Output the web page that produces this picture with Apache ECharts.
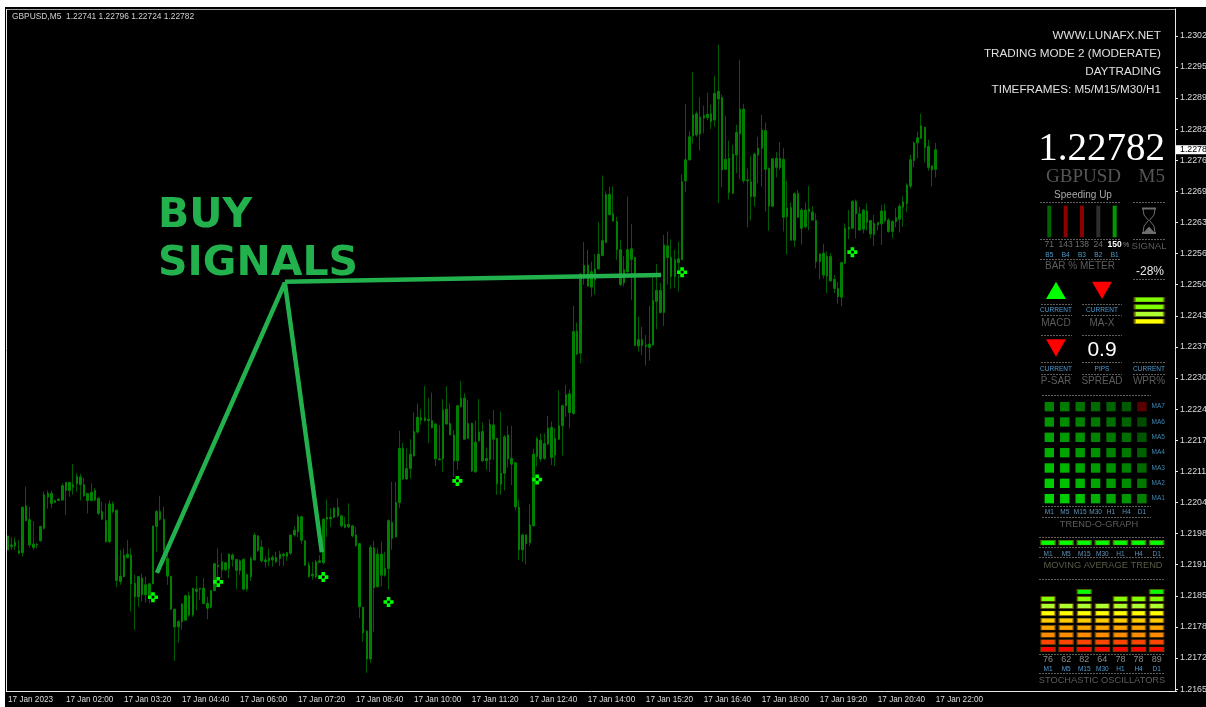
<!DOCTYPE html>
<html>
<head>
<meta charset="utf-8">
<title>GBPUSD,M5</title>
<script src="https://cdn.jsdelivr.net/npm/echarts@6/dist/echarts.min.js"></script>
<style>
html, body { margin: 0; padding: 0; background: #000; overflow: hidden; }
#chart { width: 1206px; height: 707px; }
</style>
</head>
<body>
<div id="chart"></div>
<script>
// prices in points (1.22782 = 122782).
// every candle has the same colour so only the body top and bottom can be read
const bodyHigh = [
    121975,121956,121962,121944,122035,122038,122009,121958,121958,121995,
    122061,122064,122064,122049,122052,122080,122087,122087,122082,122099,
    122098,122082,122064,122066,122070,122054,122026,122007,122042,122042,
    122029,121891,121935,121937,121935,121876,121890,121887,121873,121875,
    121996,122026,122026,122010,121928,121891,121822,121796,121833,121850,
    121850,121866,121864,121866,121866,121834,121861,121917,121914,121921,
    121919,121937,121935,121926,121923,121926,121894,121928,121977,121975,
    121952,121925,121929,121930,121930,121937,121937,121940,121977,121987,
    122015,122015,121965,121914,121895,121921,121923,122010,122014,122014,
    122033,122034,122017,121999,121999,121996,121977,121959,121826,121776,
    121951,121950,121937,121937,121907,122007,122003,122045,122158,122158,
    122116,122146,122193,122223,122222,122222,122219,122216,122209,122136,
    122238,122240,122210,122186,122247,122263,122263,122210,122210,122171,
    122192,122193,122137,122208,122207,122179,122106,122182,122186,122137,
    122128,122035,121977,121977,121998,122146,122178,122175,122168,122200,
    122202,122179,122205,122247,122270,122272,122402,122403,122522,122540,
    122541,122527,122533,122564,122592,122688,122689,122648,122632,122573,
    122531,122573,122575,122557,122385,122385,122374,122376,122467,122488,
    122488,122583,122581,122557,122552,122554,122715,122761,122809,122855,
    122857,122850,122853,122856,122857,122900,122904,122891,122762,122764,
    122773,122818,122867,122867,122719,122715,122773,122785,122823,122822,
    122743,122763,122764,122764,122762,122660,122661,122690,122691,122656,
    122656,122658,122652,122634,122564,122566,122559,122559,122511,122492,
    122546,122618,122620,122674,122674,122648,122656,122654,122634,122628,
    122630,122654,122654,122635,122632,122640,122664,122673,122708,122761,
    122796,122807,122832,122829,122789,122748,122782
];
const bodyLow = [
    121946,121953,121954,121939,121940,122007,121956,121951,121956,121965,
    121991,122056,122043,122045,122049,122050,122070,122070,122077,122084,
    122082,122059,122049,122049,122050,122022,122010,121963,121963,122026,
    121882,121880,121890,121930,121875,121848,121848,121852,121852,121850,
    121875,121995,122010,121946,121891,121822,121785,121785,121796,121799,
    121810,121810,121859,121864,121834,121824,121826,121861,121911,121904,
    121904,121907,121926,121903,121903,121864,121864,121890,121925,121945,
    121923,121921,121923,121925,121921,121928,121934,121932,121939,121977,
    121984,121966,121914,121890,121892,121890,121920,121919,122010,122011,
    122014,122017,121996,121993,121994,121975,121955,121827,121773,121718,
    121718,121867,121869,121893,121893,121907,121970,121973,122045,122094,
    122094,122116,122142,122192,122217,122216,122216,122201,122136,122134,
    122136,122209,122186,122132,122132,122245,122177,122179,122111,122109,
    122174,122132,122132,122135,122177,122084,122083,122106,122136,122125,
    122036,121946,121946,121959,121961,121996,122141,122136,122137,122167,
    122139,122144,122177,122205,122247,122233,122231,122355,122357,122523,
    122497,122495,122510,122533,122561,122588,122646,122633,122573,122500,
    122504,122527,122553,122373,122372,122373,122371,122369,122374,122465,
    122442,122442,122557,122517,122517,122546,122552,122717,122761,122811,
    122813,122815,122848,122849,122841,122844,122888,122740,122741,122693,
    122691,122771,122815,122717,122717,122684,122684,122771,122785,122741,
    122664,122664,122745,122745,122641,122642,122593,122593,122641,122618,
    122621,122653,122635,122548,122548,122520,122518,122508,122492,122475,
    122474,122545,122616,122618,122648,122614,122616,122630,122606,122605,
    122625,122627,122634,122611,122611,122632,122637,122662,122669,122706,
    122759,122796,122806,122787,122745,122740,122741
];
const wickHigh = [
    121975,121972,121972,121967,122036,122078,122036,122006,121960,121995,
    122068,122070,122070,122050,122053,122085,122087,122087,122125,122106,
    122105,122096,122064,122085,122075,122054,122047,122043,122050,122047,
    122029,121946,121949,121967,121949,121894,121891,121896,121890,121875,
    121996,122029,122059,122036,121949,121891,121822,121799,121834,121852,
    121859,121866,121891,121866,121887,121848,121862,121918,121949,121939,
    121921,121939,121939,121926,121926,121928,121896,121932,121982,121977,
    121966,121932,121949,121935,121942,121944,121940,121942,121977,121996,
    122020,122017,121965,121921,121921,121925,121935,122012,122051,122033,
    122035,122054,122019,122015,122043,121998,121994,121959,121827,121778,
    121956,121965,121949,121963,121942,122010,122088,122088,122195,122169,
    122158,122177,122233,122252,122240,122288,122263,122275,122210,122207,
    122261,122288,122251,122196,122249,122299,122273,122259,122212,122216,
    122261,122212,122160,122219,122238,122179,122235,122186,122205,122205,
    122128,122051,121980,121979,122042,122157,122182,122189,122189,122226,
    122214,122200,122279,122249,122290,122281,122456,122421,122524,122589,
    122573,122548,122564,122631,122728,122695,122705,122705,122642,122594,
    122560,122684,122627,122557,122433,122412,122395,122456,122517,122543,
    122504,122604,122611,122595,122573,122590,122731,122878,122820,122944,
    122862,122892,122874,122901,122876,122936,123001,122897,122853,122801,
    122792,122834,122970,122878,122743,122769,122776,122809,122855,122839,
    122745,122764,122777,122798,122786,122717,122672,122693,122698,122660,
    122672,122706,122664,122649,122566,122585,122569,122566,122520,122506,
    122548,122628,122656,122677,122678,122662,122658,122670,122635,122646,
    122630,122667,122669,122639,122635,122660,122669,122685,122712,122771,
    122799,122820,122857,122830,122803,122750,122796
];
const wickLow = [
    121946,121946,121946,121937,121932,122007,121951,121946,121949,121963,
    121988,122032,122033,122045,122048,122049,122019,122057,122061,122068,
    122049,122057,122022,122047,122047,122019,122009,121961,121960,122022,
    121868,121873,121889,121928,121817,121779,121827,121838,121836,121834,
    121875,121942,122007,121939,121873,121820,121714,121752,121779,121798,
    121806,121806,121820,121841,121833,121801,121824,121859,121889,121887,
    121903,121887,121911,121864,121894,121861,121859,121881,121923,121942,
    121919,121909,121912,121911,121918,121912,121912,121923,121935,121973,
    121972,121959,121913,121888,121884,121886,121919,121916,121973,121994,
    122012,122014,121993,121991,121991,121972,121952,121803,121754,121689,
    121710,121775,121867,121869,121890,121863,121946,121972,122033,122092,
    122092,122095,122141,122189,122207,122214,122169,122200,122121,122134,
    122109,122207,122186,122098,122113,122244,122177,122177,122109,122107,
    122172,122130,122113,122109,122134,122061,122061,122070,122118,122081,
    122029,121925,121921,121916,121954,121996,122120,122130,122134,122165,
    122123,122121,122175,122143,122224,122200,122228,122353,122336,122500,
    122496,122475,122479,122531,122559,122587,122646,122632,122552,122497,
    122496,122524,122468,122373,122360,122353,122331,122341,122373,122407,
    122440,122414,122500,122491,122493,122486,122552,122694,122759,122795,
    122809,122780,122816,122844,122825,122830,122671,122704,122740,122678,
    122690,122733,122720,122712,122620,122634,122663,122712,122705,122653,
    122613,122663,122724,122740,122611,122563,122592,122579,122639,122584,
    122618,122614,122634,122534,122511,122513,122482,122506,122482,122460,
    122455,122543,122595,122616,122597,122613,122607,122613,122597,122581,
    122613,122583,122630,122609,122597,122620,122609,122621,122651,122701,
    122745,122764,122804,122755,122738,122705,122724
];

const lastPrice = 1.22782;
const priceTicks = [1.23020,1.22955,1.22890,1.22825,1.22760,1.22695,1.22630,1.22565,1.22500,1.22435,1.22370,
    1.22305,1.22240,1.22175,1.22110,1.22045,1.21980,1.21915,1.21850,1.21785,1.21720,1.21655];
const timeTickBars = [0,16,32,48,64,80,96,112,128,144,160,176,192,208,224,240,256];
const timeTickLabels = ['17 Jan 2023','17 Jan 02:00','17 Jan 03:20','17 Jan 04:40','17 Jan 06:00','17 Jan 07:20',
    '17 Jan 08:40','17 Jan 10:00','17 Jan 11:20','17 Jan 12:40','17 Jan 14:00','17 Jan 15:20','17 Jan 16:40',
    '17 Jan 18:00','17 Jan 19:20','17 Jan 20:40','17 Jan 22:00'];

// buy arrows on the chart
const signalBars = [40,58,87,105,124,146,186,233];
const signalPrices = [121847,121879,121889,121837,122090,122093,122526,122568];

// hand drawn lines: bar number, price
const drawnVBars = [41.1,76.4,86.6];
const drawnVPrices = [121898,122504,121941];
const drawnHBars = [76.4,180.2];
const drawnHPrices = [122506,122520];

// right side panel
const timeframes = ['M1','M5','M15','M30','H1','H4','D1'];
const maNames = ['MA1','MA2','MA3','MA4','MA5','MA6','MA7'];
// green level per cell, minus is a red cell. first row is MA1
const trendLevels = [
    [215,205,190,175,165,150,130],
    [205,195,180,165,155,140,120],
    [190,180,165,155,145,130,105],
    [175,165,155,145,130,120,95],
    [165,155,145,130,120,110,85],
    [150,140,130,120,110,100,75],
    [130,125,115,105,98,90,-90]
];
const maTrendOn = [1,1,1,1,1,1,1];
const stochValues = [76,62,82,64,78,78,89];
const stochSegments = [8,7,9,7,8,8,9];
const meterNames = ['B5','B4','B3','B2','B1'];
const meterValues = [71,143,138,24,150];
const meterFull = [1,1,1,1,1];
const wprLevels = ['L1','L2','L3','L4'];

const ledColors = ['#ff0000','#ff4500','#ff8c00','#ffa500','#ffcc00','#ffff00','#adff2f','#7fff00','#00ff00'];
const meterColors = ['#006400','#8b0000','#8b0000','#2e2e2e','#009a00'];
const wprColors = ['#ffff00','#adff2f','#7fff00','#7fff00'];
const blueText = '#4f9bd0';
const dimText = '#5c5c5c';

// wicks and bodies are two series, the wicks in the picture are darker than the bodies
const wickData = bodyHigh.map((v, i) => [bodyLow[i] / 1e5, v / 1e5, wickLow[i] / 1e5, wickHigh[i] / 1e5]);
const bodyData = bodyHigh.map((v, i) => [bodyLow[i] / 1e5, v / 1e5, bodyLow[i] / 1e5, v / 1e5]);

// 323 slots so one bar is 3.624px wide, the chart leaves room right of the last bar
const categories = [];
for (let i = 0; i < 323; i++) categories.push('');
timeTickBars.forEach((b, i) => { categories[b] = timeTickLabels[i]; });

const chart = echarts.init(document.getElementById('chart'));

function hiddenValue(gridIndex, min, max) {
    return {type: 'value', gridIndex: gridIndex, min: min, max: max, show: false};
}
function panelX(gridIndex, data, formatter, rich, margin) {
    return {
        type: 'category', gridIndex: gridIndex, data: data,
        axisLine: {show: false}, axisTick: {show: false}, splitLine: {show: false},
        axisLabel: {show: true, interval: 0, margin: margin, formatter: formatter, rich: rich, hideOverlap: false,
            color: '#5f93b8', fontSize: 6.5, fontFamily: 'Liberation Sans'}
    };
}
function panelY(gridIndex, data) {
    return {
        type: 'category', gridIndex: gridIndex, data: data, show: false,
        axisLine: {show: false}, axisTick: {show: false}, axisLabel: {show: false}, splitLine: {show: false}
    };
}
function panelGrid(left, top, width, height) {
    return {left: left, top: top, width: width, height: height, outerBoundsMode: 'none'};
}

const trendCells = [];
trendLevels.forEach((row, r) => row.forEach((g, c) => {
    trendCells.push({
        value: [c, r],
        itemStyle: {color: g < 0 ? 'rgb(' + (-g) + ',0,0)' : 'rgb(0,' + g + ',0)'}
    });
}));
const stochCells = [];
stochSegments.forEach((n, c) => {
    for (let s = 0; s < n; s++) {
        stochCells.push({value: [c, s], itemStyle: {color: ledColors[s]}});
    }
});

const option = {
    backgroundColor: '#000',
    animation: false,
    grid: [
        panelGrid(6.19, 9, 1170.55, 682.5),
        panelGrid(1041.1, 205.7, 81.75, 31.6),
        panelGrid(1134, 296, 30.6, 29),
        panelGrid(1041.6, 399, 108, 107.3),
        panelGrid(1039, 540, 126.7, 5.4),
        panelGrid(1039, 588.1, 126.7, 64.8)
    ],
    xAxis: [
        {
            type: 'category', gridIndex: 0, data: categories,
            axisLine: {onZero: false, lineStyle: {color: '#e8e8e8', width: 1}},
            axisTick: {alignWithLabel: true, length: 3, lineStyle: {color: '#e8e8e8'}, customValues: timeTickBars},
            axisLabel: {
                customValues: timeTickBars, align: 'left', margin: 4, hideOverlap: false,
                color: '#dcdcdc', fontSize: 8.2, fontFamily: 'Liberation Sans'
            },
            splitLine: {show: false}
        },
        hiddenValue(0, -0.5, 322.5),
        panelX(1, meterNames, (v, i) => '{' + (i === 4 ? 'w' : 'v') + '|' + meterValues[i] + '}\n{n|' + v + '}', {
            v: {color: '#6e6e6e', fontSize: 8.5, fontFamily: 'Liberation Sans', lineHeight: 11},
            w: {color: '#fff', fontSize: 8.5, fontWeight: 'bold', fontFamily: 'Liberation Sans', lineHeight: 11},
            n: {color: blueText, fontSize: 6.5, fontFamily: 'Liberation Sans', lineHeight: 9}
        }, 2),
        Object.assign(panelX(2, ['WPR']), {show: false}),
        panelX(3, timeframes, v => v, null, 2),
        panelX(4, timeframes, v => v, null, 5),
        panelX(5, timeframes, (v, i) => '{v|' + stochValues[i] + '}\n{t|' + v + '}', {
            v: {color: '#8a8a8a', fontSize: 9, fontFamily: 'Liberation Sans', lineHeight: 10},
            t: {color: blueText, fontSize: 6.5, fontFamily: 'Liberation Sans', lineHeight: 8}
        }, 2)
    ],
    yAxis: [
        {
            type: 'value', gridIndex: 0, position: 'right', offset: -1.74, min: 1.2165, max: 1.23076,
            splitLine: {show: false},
            axisLine: {show: true, onZero: false, lineStyle: {color: '#e8e8e8', width: 1}},
            axisTick: {show: true, length: 3, lineStyle: {color: '#e8e8e8'}, customValues: priceTicks},
            axisLabel: {
                customValues: priceTicks, margin: 5, hideOverlap: false,
                color: '#dcdcdc', fontSize: 8.8, fontFamily: 'Liberation Sans',
                formatter: v => v.toFixed(5)
            }
        },
        hiddenValue(1, 0, 1),
        panelY(2, wprLevels),
        Object.assign(panelY(3, maNames), {
            show: true, position: 'right',
            axisLabel: {show: true, interval: 0, margin: 2, color: '#3f86b0', fontSize: 6.5, fontFamily: 'Liberation Sans'}
        }),
        panelY(4, ['on']),
        panelY(5, ['1','2','3','4','5','6','7','8','9'])
    ],
    series: [
        {
            type: 'candlestick', xAxisIndex: 0, yAxisIndex: 0, data: wickData, barWidth: 1, z: 2,
            itemStyle: {color: '#005c00', color0: '#005c00', borderColor: '#005c00', borderColor0: '#005c00', borderWidth: 1}
        },
        {
            type: 'candlestick', xAxisIndex: 0, yAxisIndex: 0, data: bodyData, barWidth: 2, z: 3,
            itemStyle: {color: '#007f00', color0: '#007f00', borderColor: '#007f00', borderColor0: '#007f00', borderWidth: 1}
        },
        {
            type: 'scatter', xAxisIndex: 1, yAxisIndex: 0, z: 4, symbolSize: [10, 10],
            symbol: 'path://M3.5 0h4v4h-4zM0 3.5h4v4h-4zM7 3.5h4v4h-4zM3.5 7h4v4h-4z',
            itemStyle: {color: '#00ff00', opacity: 1},
            data: signalBars.map((b, i) => [b, signalPrices[i] / 1e5])
        },
        {
            type: 'line', xAxisIndex: 1, yAxisIndex: 0, z: 5, showSymbol: false,
            lineStyle: {color: '#22b14c', width: 4.5},
            data: drawnVBars.map((b, i) => [b, drawnVPrices[i] / 1e5])
        },
        {
            type: 'line', xAxisIndex: 1, yAxisIndex: 0, z: 5, showSymbol: false,
            lineStyle: {color: '#22b14c', width: 4.5},
            data: drawnHBars.map((b, i) => [b, drawnHPrices[i] / 1e5])
        },
        {
            type: 'bar', xAxisIndex: 2, yAxisIndex: 1, barWidth: 4,
            data: meterFull.map((v, i) => ({value: v, itemStyle: {color: meterColors[i]}}))
        },
        {
            type: 'scatter', xAxisIndex: 3, yAxisIndex: 2, symbol: 'rect', symbolSize: [29.5, 4.6],
            itemStyle: {opacity: 1, borderColor: 'rgba(110,90,0,.7)', borderWidth: 1},
            data: wprLevels.map((n, i) => ({value: [0, i], itemStyle: {color: wprColors[i]}}))
        },
        {
            type: 'scatter', xAxisIndex: 4, yAxisIndex: 3, symbol: 'rect', symbolSize: [9.4, 9.4],
            itemStyle: {opacity: 1},
            data: trendCells
        },
        {
            type: 'scatter', xAxisIndex: 5, yAxisIndex: 4, symbol: 'rect', symbolSize: [14, 4.6],
            itemStyle: {opacity: 1, color: '#00ff00', borderColor: 'rgba(90,120,0,.8)', borderWidth: 1},
            data: maTrendOn.map((v, i) => [i, v - 1])
        },
        {
            type: 'scatter', xAxisIndex: 6, yAxisIndex: 5, symbol: 'rect', symbolSize: [14, 4.6],
            itemStyle: {opacity: 1, borderColor: 'rgba(120,80,0,.7)', borderWidth: 1},
            data: stochCells
        }
    ]
};

chart.setOption(option);

function txt(text, x, y, size, fill, align, family, weight) {
    return {
        type: 'text', x: x, y: y, z: 22,
        style: {
            text: text, fill: fill, textAlign: align || 'center', textVerticalAlign: 'middle',
            font: (weight || 'normal') + ' ' + size + 'px "' + (family || 'Liberation Sans') + '"'
        }
    };
}
function dash(x1, x2, y) {
    return {
        type: 'line', z: 20, shape: {x1: x1, y1: y + 0.5, x2: x2, y2: y + 0.5},
        style: {stroke: '#5e5e5e', lineWidth: 1, lineDash: [2, 1]}
    };
}
function tri(cx, top, bottom, halfW, up, fill) {
    const pts = up ? [[cx - halfW, bottom], [cx + halfW, bottom], [cx, top]]
                   : [[cx - halfW, top], [cx + halfW, top], [cx, bottom]];
    return {type: 'polygon', z: 20, shape: {points: pts}, style: {fill: fill}};
}

const flagY = chart.convertToPixel({yAxisIndex: 0}, lastPrice);
const glass = '#6e6e6e';

chart.setOption({
    graphic: [
        // white strips and frame of the screenshot
        {type: 'rect', z: 30, shape: {x: 0, y: 0, width: 1206, height: 7}, style: {fill: '#fff'}},
        {type: 'rect', z: 30, shape: {x: 0, y: 0, width: 5, height: 707}, style: {fill: '#fff'}},
        {type: 'line', z: 30, shape: {x1: 7, y1: 9.5, x2: 1175, y2: 9.5}, style: {stroke: '#9a9a9a', lineWidth: 1}},
        {type: 'line', z: 30, shape: {x1: 6.5, y1: 9, x2: 6.5, y2: 692}, style: {stroke: '#e8e8e8', lineWidth: 1}},

        txt('GBPUSD,M5  1.22741 1.22796 1.22724 1.22782', 12, 17, 8.4, '#d0d0d0', 'left'),
        txt('BUY', 158, 216, 41, '#22b14c', 'left', 'DejaVu Sans', 'bold'),
        txt('SIGNALS', 158, 264, 41, '#22b14c', 'left', 'DejaVu Sans', 'bold'),

        // price flag
        {type: 'rect', z: 21, shape: {x: 1176, y: flagY - 4.5, width: 30, height: 9}, style: {fill: '#fff'}},
        txt(lastPrice.toFixed(5), 1180, flagY, 8.8, '#000', 'left'),

        txt('WWW.LUNAFX.NET', 1161, 36, 11.7, '#e0e0e0', 'right'),
        txt('TRADING MODE 2 (MODERATE)', 1161, 54, 11.7, '#e0e0e0', 'right'),
        txt('DAYTRADING', 1161, 72, 11.7, '#e0e0e0', 'right'),
        txt('TIMEFRAMES: M5/M15/M30/H1', 1161, 90, 11.7, '#e0e0e0', 'right'),

        txt('1.22782', 1165, 150, 39, '#fff', 'right', 'Liberation Serif'),
        txt('GBPUSD', 1046, 177, 19, '#555', 'left', 'Liberation Serif'),
        txt('M5', 1165, 177, 19, '#555', 'right', 'Liberation Serif'),
        txt('Speeding Up', 1083, 195, 10, '#a8a8a8'),

        dash(1040, 1120, 202), dash(1133, 1165, 202),
        dash(1040, 1120, 239), dash(1133, 1165, 239),
        dash(1040, 1120, 259),
        dash(1133, 1165, 279),
        txt('%', 1126, 245, 7, '#8a8a8a'),
        txt('BAR % METER', 1080, 266, 10, dimText),
        txt('SIGNAL', 1149, 246, 9.5, dimText),
        txt('-28%', 1150, 272, 12, '#e8e8e8'),

        // hourglass
        {type: 'line', z: 20, shape: {x1: 1142, y1: 208.5, x2: 1156, y2: 208.5}, style: {stroke: glass, lineWidth: 2}},
        {type: 'line', z: 20, shape: {x1: 1142, y1: 233, x2: 1156, y2: 233}, style: {stroke: glass, lineWidth: 2}},
        {type: 'polyline', z: 20, shape: {points: [[1143, 209], [1144, 215], [1148.5, 220.5], [1144, 226], [1143, 233]]}, style: {stroke: glass, fill: null, lineWidth: 1}},
        {type: 'polyline', z: 20, shape: {points: [[1155, 209], [1154, 215], [1149.5, 220.5], [1154, 226], [1155, 233]]}, style: {stroke: glass, fill: null, lineWidth: 1}},
        {type: 'polygon', z: 20, shape: {points: [[1144, 232], [1149, 226.5], [1154, 232]]}, style: {fill: glass}},

        tri(1056, 281.7, 299, 10, true, '#00ff00'),
        tri(1102, 281.7, 299, 10, false, '#ff0000'),
        tri(1056, 339.3, 356.7, 10, false, '#ff0000'),

        dash(1041, 1072, 304), dash(1082, 1122, 304),
        txt('CURRENT', 1056, 310, 6.5, blueText), txt('CURRENT', 1102, 310, 6.5, blueText),
        dash(1041, 1072, 315), dash(1082, 1122, 315),
        txt('MACD', 1056, 323, 10, dimText), txt('MA-X', 1102, 323, 10, dimText),

        dash(1041, 1072, 335), dash(1082, 1122, 335),
        txt('0.9', 1102, 350, 21, '#fff'),
        dash(1041, 1072, 362), dash(1082, 1122, 362), dash(1133, 1165, 362),
        txt('CURRENT', 1056, 369, 6.5, blueText), txt('PIPS', 1102, 369, 6.5, blueText), txt('CURRENT', 1149, 369, 6.5, blueText),
        dash(1041, 1072, 374), dash(1082, 1122, 374), dash(1133, 1165, 374),
        txt('P-SAR', 1056, 381.5, 10, dimText), txt('SPREAD', 1102, 381.5, 10, dimText), txt('WPR%', 1149, 381.5, 10, dimText),

        dash(1042, 1151, 395),
        dash(1042, 1151, 506),
        dash(1042, 1151, 517),
        txt('TREND-O-GRAPH', 1099, 524, 9.3, dimText),
        dash(1039, 1165, 537),
        dash(1039, 1165, 547),
        dash(1039, 1165, 557),
        txt('MOVING AVERAGE TREND', 1103, 565, 9.3, '#5a5a48'),
        dash(1039, 1165, 579),
        dash(1039, 1165, 654),
        dash(1039, 1165, 673),
        txt('STOCHASTIC OSCILLATORS', 1102, 680, 9.3, dimText)
    ]
});
</script>
</body>
</html>
